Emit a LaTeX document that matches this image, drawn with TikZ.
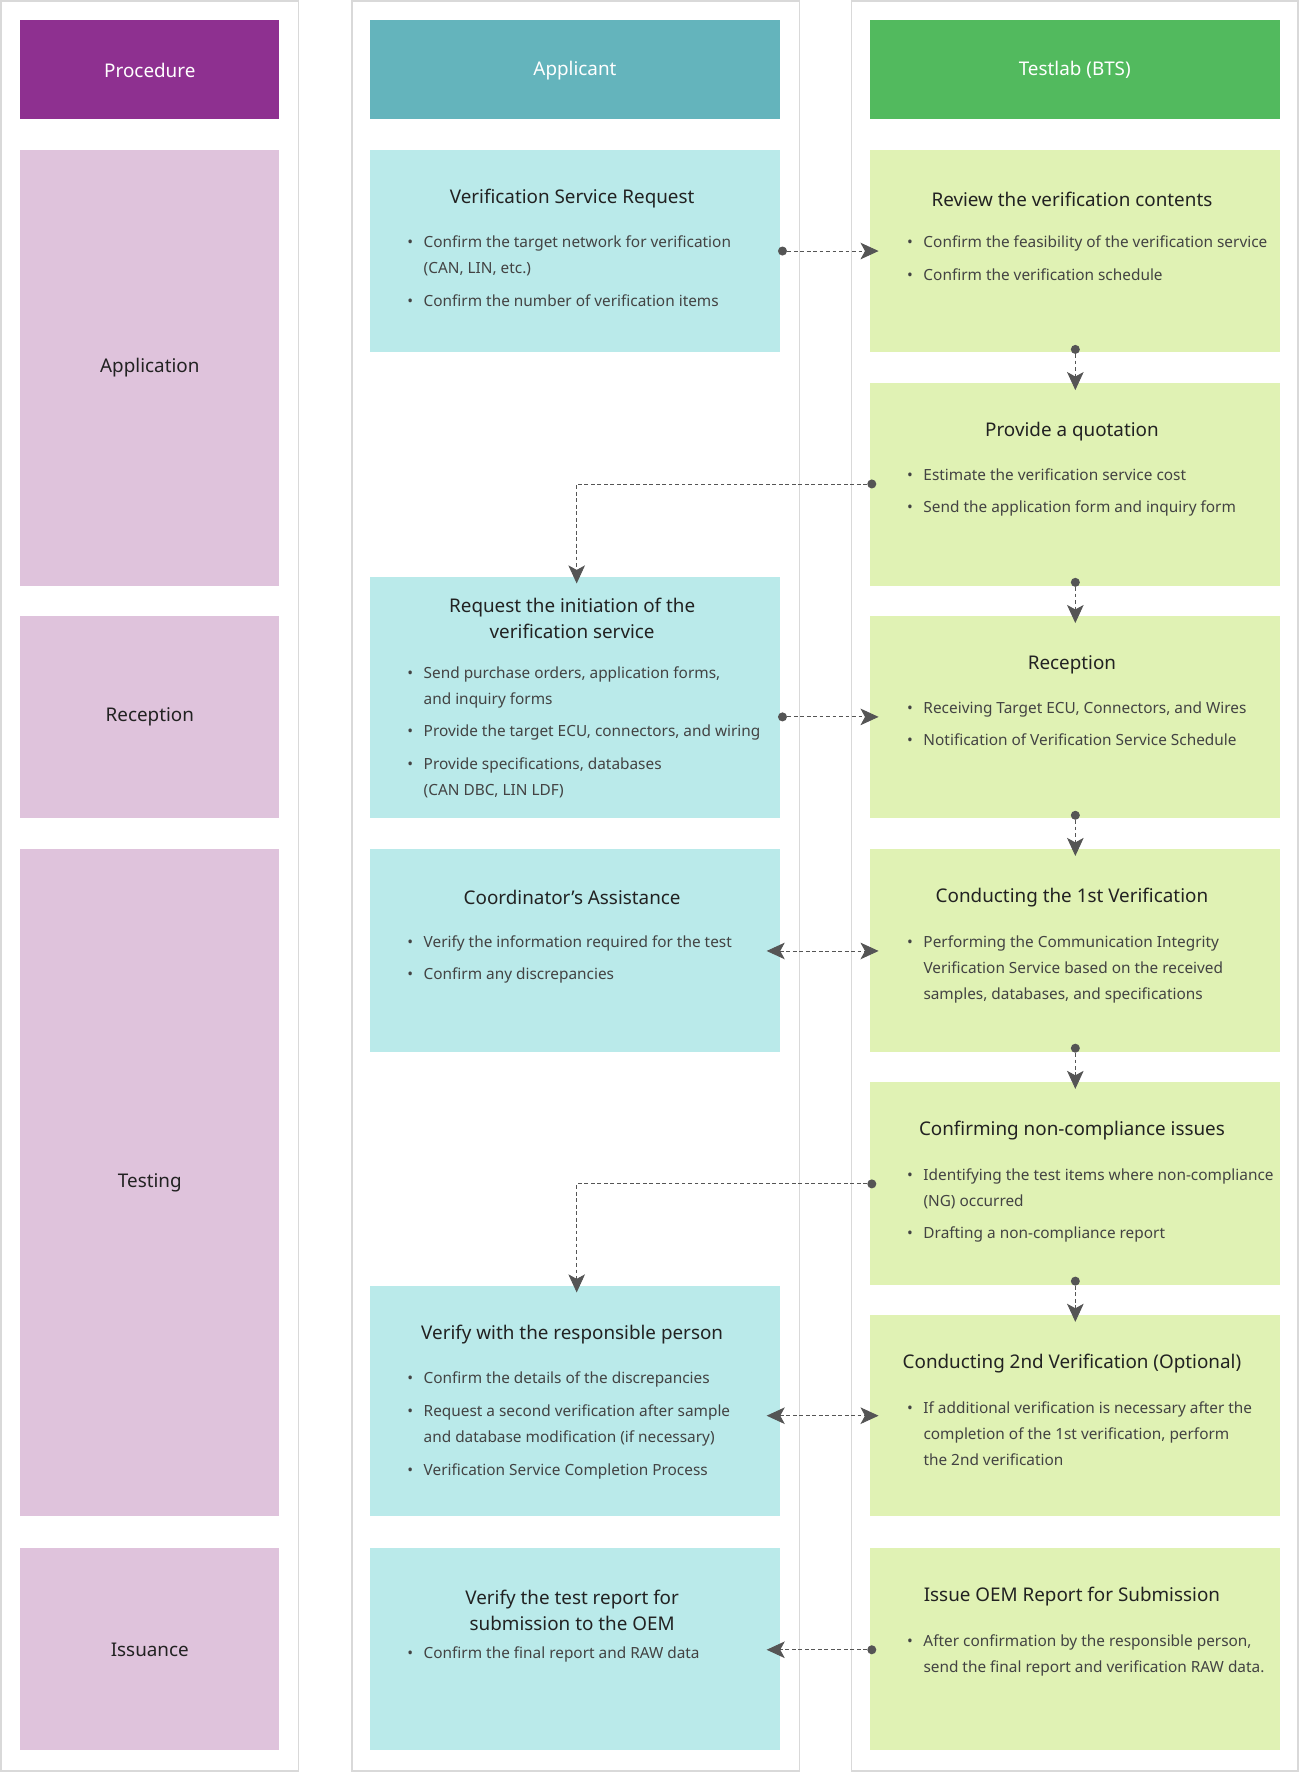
\documentclass[tikz,border=0pt]{standalone}
\usepackage{fontspec}
\setmainfont{Noto Sans}
\usetikzlibrary{arrows.meta}
\definecolor{hpur}{HTML}{8E3090}
\definecolor{lpur}{HTML}{DFC3DC}
\definecolor{hteal}{HTML}{64B4BC}
\definecolor{lteal}{HTML}{BAEAEA}
\definecolor{hgrn}{HTML}{52BA5E}
\definecolor{lgrn}{HTML}{E0F2B4}
\definecolor{lane}{HTML}{D9D9D9}
\definecolor{txt}{HTML}{222222}
\definecolor{arr}{HTML}{555555}
\newcommand\bul{\textbullet\hspace{7pt}}
\newcommand\ind{\hphantom{\textbullet\hspace{7pt}}}
\tikzset{
 lanebox/.style={draw=lane,line width=1.2pt,fill=white},
 head/.style={font=\fontsize{12.5}{15}\selectfont\bfseries,text=white},
 ttl/.style={font=\fontsize{12.5}{17.5}\selectfont\bfseries,text=txt,align=center},
 plab/.style={font=\fontsize{12.5}{15}\selectfont\bfseries,text=txt},
 bl/.style={font=\fontsize{10.2}{17.25}\selectfont,text=txt!85,align=left,anchor=north west,inner sep=0pt},
 con/.style={draw=arr,dash pattern=on 2.5pt off 1.8pt,line width=0.6pt},
 tip/.style={-{Stealth[length=12pt,width=11pt,inset=3pt]}},
 dtip/.style={{Stealth[length=12pt,width=11pt,inset=3pt]}-{Stealth[length=12pt,width=11pt,inset=3pt]}},
 dot/.style={fill=arr,circle,inner sep=0pt,minimum size=6pt}
}
\begin{document}
\begin{tikzpicture}[x=0.75pt,y=-0.75pt]
\useasboundingbox (0,0) rectangle (1150,1568);
% lanes
\draw[lanebox] (1,1) rectangle (264,1566);
\draw[lanebox] (311,1) rectangle (707,1566);
\draw[lanebox] (753,1) rectangle (1148,1566);
% headers
\fill[hpur] (18,18) rectangle (247,105); \node[head] (h1) at (132.5,62) {Procedure};
\fill[hteal] (327,18) rectangle (690,105); \node[head] (h2) at (508.5,62) {Applicant};
\fill[hgrn] (769,18) rectangle (1132,105); \node[head] (h3) at (950.5,62) {Testlab (BTS)};
% procedure
\fill[lpur] (18,133) rectangle (247,518); \node[plab] (p1) at (132.5,325) {Application};
\fill[lpur] (18,545) rectangle (247,723); \node[plab] (p2) at (132.5,634) {Reception};
\fill[lpur] (18,751) rectangle (247,1341); \node[plab] (p3) at (132.5,1046) {Testing};
\fill[lpur] (18,1369) rectangle (247,1548); \node[plab] (p4) at (132.5,1459) {Issuance};
% applicant boxes
\fill[lteal] (327,133) rectangle (690,311);
\node[ttl] (a1) at (506,176) {Verification Service Request};
\node[bl] (a1b) at (360,208) {\bul Confirm the target network for verification\\\ind (CAN, LIN, etc.)\\[4.5pt]\bul Confirm the number of verification items};
\fill[lteal] (327,510) rectangle (690,723);
\node[ttl] (a2) at (506,547) {Request the initiation of the\\verification service};
\node[bl] (a2b) at (360,589) {\bul Send purchase orders, application forms,\\\ind and inquiry forms\\[4.5pt]\bul Provide the target ECU, connectors, and wiring\\[4.5pt]\bul Provide specifications, databases\\\ind (CAN DBC, LIN LDF)};
\fill[lteal] (327,751) rectangle (690,930);
\node[ttl] (a3) at (506,794) {Coordinator's Assistance};
\node[bl] (a3b) at (360,827) {\bul Verify the information required for the test\\[4.5pt]\bul Confirm any discrepancies};
\fill[lteal] (327,1137) rectangle (690,1341);
\node[ttl] (a4) at (506,1180) {Verify with the responsible person};
\node[bl] (a4b) at (360,1213) {\bul Confirm the details of the discrepancies\\[4.5pt]\bul Request a second verification after sample\\\ind and database modification (if necessary)\\[4.5pt]\bul Verification Service Completion Process};
\fill[lteal] (327,1369) rectangle (690,1548);
\node[ttl] (a5) at (506,1424) {Verify the test report for\\submission to the OEM};
\node[bl] (a5b) at (360,1456) {\bul Confirm the final report and RAW data};
% testlab boxes
\fill[lgrn] (769,133) rectangle (1132,311);
\node[ttl] (t1) at (948,176) {Review the verification contents};
\node[bl] (t1b) at (802,208) {\bul Confirm the feasibility of the verification service\\[4.5pt]\bul Confirm the verification schedule};
\fill[lgrn] (769,339) rectangle (1132,518);
\node[ttl] (t2) at (948,382) {Provide a quotation};
\node[bl] (t2b) at (802,414) {\bul Estimate the verification service cost\\[4.5pt]\bul Send the application form and inquiry form};
\fill[lgrn] (769,545) rectangle (1132,723);
\node[ttl] (t3) at (948,588) {Reception};
\node[bl] (t3b) at (802,620) {\bul Receiving Target ECU, Connectors, and Wires\\[4.5pt]\bul Notification of Verification Service Schedule};
\fill[lgrn] (769,751) rectangle (1132,930);
\node[ttl] (t4) at (948,794) {Conducting the 1st Verification};
\node[bl] (t4b) at (802,827) {\bul Performing the Communication Integrity\\\ind Verification Service based on the received\\\ind samples, databases, and specifications};
\fill[lgrn] (769,957) rectangle (1132,1136);
\node[ttl] (t5) at (948,1000) {Confirming non-compliance issues};
\node[bl] (t5b) at (802,1033) {\bul Identifying the test items where non-compliance\\\ind (NG) occurred\\[4.5pt]\bul Drafting a non-compliance report};
\fill[lgrn] (769,1163) rectangle (1132,1341);
\node[ttl] (t6) at (948,1206) {Conducting 2nd Verification (Optional)};
\node[bl] (t6b) at (802,1239) {\bul If additional verification is necessary after the\\\ind completion of the 1st verification, perform\\\ind the 2nd verification};
\fill[lgrn] (769,1369) rectangle (1132,1548);
\node[ttl] (t7) at (948,1412) {Issue OEM Report for Submission};
\node[bl] (t7b) at (802,1445) {\bul After confirmation by the responsible person,\\\ind send the final report and verification RAW data.};
% connector endpoints
\node[dot] (d1) at (692,222) {}; \coordinate (e1) at (777,222);
\node[dot] (d2) at (951,309) {}; \coordinate (e2) at (951,345);
\node[dot] (d3) at (771,428) {}; \coordinate (k3) at (510,428); \coordinate (e3) at (510,516);
\node[dot] (d4) at (951,515) {}; \coordinate (e4) at (951,551);
\node[dot] (d5) at (692,634) {}; \coordinate (e5) at (777,634);
\node[dot] (d6) at (951,721) {}; \coordinate (e6) at (951,757);
\coordinate (s7) at (678,841); \coordinate (e7) at (777,841);
\node[dot] (d8) at (951,927) {}; \coordinate (e8) at (951,963);
\node[dot] (d9) at (771,1047) {}; \coordinate (k9) at (510,1047); \coordinate (e9) at (510,1143);
\node[dot] (d10) at (951,1133) {}; \coordinate (e10) at (951,1169);
\coordinate (s11) at (678,1252); \coordinate (e11) at (777,1252);
\node[dot] (d12) at (771,1459) {}; \coordinate (e12) at (678,1459);
% connectors
\draw[con,tip] (d1) -- (e1);
\draw[con,tip] (d2) -- (e2);
\draw[con,tip] (d3) -- (k3) -- (e3);
\draw[con,tip] (d4) -- (e4);
\draw[con,tip] (d5) -- (e5);
\draw[con,tip] (d6) -- (e6);
\draw[con,dtip] (s7) -- (e7);
\draw[con,tip] (d8) -- (e8);
\draw[con,tip] (d9) -- (k9) -- (e9);
\draw[con,tip] (d10) -- (e10);
\draw[con,dtip] (s11) -- (e11);
\draw[con,tip] (d12) -- (e12);
\end{tikzpicture}
\end{document}
